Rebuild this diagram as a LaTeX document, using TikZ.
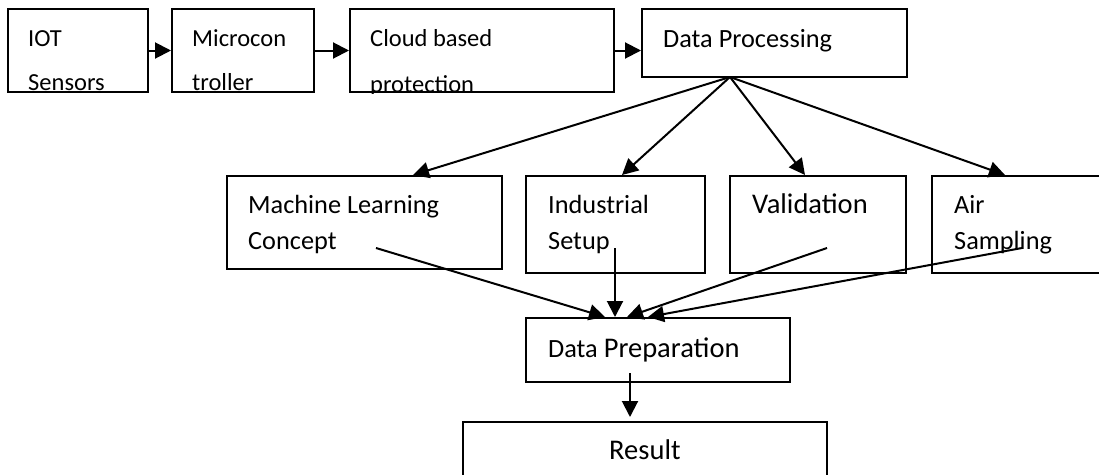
\documentclass[tikz,border=0pt]{standalone}
\usepackage{fontspec}
\setmainfont{Carlito}
\usetikzlibrary{arrows.meta}

\begin{document}
\begin{tikzpicture}[x=1pt, y=-1pt,
	box/.style={draw, line width=2pt, inner sep=0pt},
	txt/.style={anchor=base west, inner sep=0pt, font=\fontsize{26.3}{30}\selectfont},
	txtsm/.style={txt, font=\fontsize{24.5}{28}\selectfont},
	txtbig/.style={txt, font=\fontsize{28.5}{33}\selectfont},
	arr/.style={line width=2pt, -{Triangle[length=16pt, width=16pt]}}]
	\useasboundingbox (0,0) rectangle (1099,474);

	% top row
	\node at (78,50.5) [box, minimum width=140, minimum height=83] (iot) {};
	\node at (243,50.5) [box, minimum width=142, minimum height=83] (mcu) {};
	\node at (482,50.5) [box, minimum width=264, minimum height=83] (cloud) {};
	\node at (774.5,43) [box, minimum width=265, minimum height=68] (dp) {};

	\node at (28,46) [txtsm] (iot1) {IOT};
	\node at (28,90) [txtsm] (iot2) {Sensors};
	\node at (192,46) [txtsm] (mcu1) {Microcon};
	\node at (192,90) [txtsm] (mcu2) {troller};
	\node at (370,46) [txtsm] (cloud1) {Cloud based};
	\begin{scope}
		\clip (cloud.south west) rectangle (cloud.north east);
		\node at (370,92) [txtsm] (cloud2) {protection};
	\end{scope}
	\node at (663,47) [txt] (dp1) {Data Processing};

	% middle row
	\node at (364.5,222.5) [box, minimum width=275, minimum height=93] (ml) {};
	\node at (615.5,224.5) [box, minimum width=179, minimum height=97] (ind) {};
	\node at (818,224.5) [box, minimum width=176, minimum height=97] (val) {};
	\node at (1022,224.5) [box, minimum width=180, minimum height=97] (air) {};

	\node at (248,213) [txt] (ml1) {Machine Learning};
	\node at (248,249) [txt] (ml2) {Concept};
	\node at (548,213) [txt] (ind1) {Industrial};
	\node at (548,249) [txt] (ind2) {Setup};
	\node at (752,213) [txtbig] (val1) {Validation};
	\node at (954,213) [txt] (air1) {Air};
	\node at (954,249) [txt] (air2) {Sampling};

	% bottom
	\node at (658,350) [box, minimum width=264, minimum height=64] (prep) {};
	\node at (645,456) [box, minimum width=364, minimum height=68] (res) {};

	\node at (548,357) [txt] (prep1) {Data \fontsize{28.5}{33}\selectfont Preparation};
	\node at (609,459) [txtbig] (res1) {Result};

	% arrows
	\draw [arr] (iot) -- (mcu);
	\draw [arr] (mcu) -- (cloud);
	\draw [arr] (cloud.east) -- (cloud.east -| dp.west);

	\coordinate (dpout) at (730,77);
	\draw [arr] (dpout) -- ([xshift=48.5]ml.north);
	\draw [arr] (dpout) -- ([xshift=6.5]ind.north);
	\draw [arr] (dpout) -- ([xshift=-13]val.north);
	\draw [arr] (dpout) -- ([xshift=-17]air.north);

	\coordinate (mlout) at (376,248);
	\coordinate (indout) at (615,248);
	\coordinate (valout) at (827,248);
	\coordinate (airout) at (1022,248);
	\draw [arr] (mlout) -- ([xshift=-53]prep.north);
	\draw [arr] (indout) -- ([xshift=-43]prep.north);
	\draw [arr] (valout) -- ([xshift=-31]prep.north);
	\draw [arr] (airout) -- ([xshift=-10]prep.north);

	\coordinate (prepout) at (630,373);
	\draw [arr] (prepout) -- ([yshift=4]prepout |- res.north);
\end{tikzpicture}
\end{document}
